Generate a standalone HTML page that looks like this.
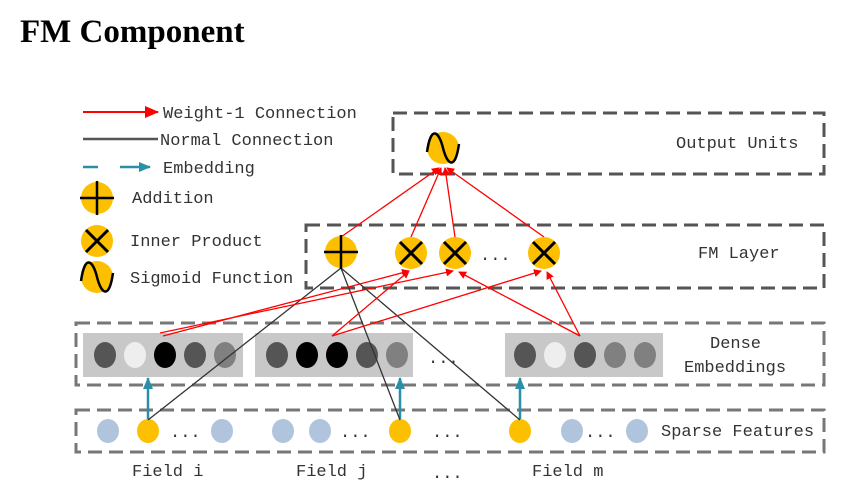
<!DOCTYPE html>
<html><head><meta charset="utf-8"><style>
html,body{margin:0;padding:0;background:#fff;width:842px;height:494px;overflow:hidden}
svg{display:block}
text{font-family:"Liberation Mono",monospace;font-size:17px;fill:#333}
</style></head><body>
<svg width="842" height="494" viewBox="0 0 842 494">
<defs>
<marker id="ra" markerWidth="8" markerHeight="8" refX="7" refY="4" orient="auto" markerUnits="userSpaceOnUse"><path d="M0,0 L8,4 L0,8z" fill="#f00"/></marker>
<marker id="ra2" markerWidth="14" markerHeight="12" refX="13" refY="6" orient="auto" markerUnits="userSpaceOnUse"><path d="M0,0 L14,6 L0,12z" fill="#f00"/></marker>
<marker id="ta" markerWidth="12" markerHeight="10" refX="11" refY="5" orient="auto" markerUnits="userSpaceOnUse"><path d="M0,0 L12,5 L0,10z" fill="#2b8fa8"/></marker>
<g id="plus"><circle r="16" fill="#fcc000"/><path d="M-17,0H17M0,-17V17" stroke="#000" stroke-width="2.5"/></g>
<g id="cross"><circle r="16" fill="#fcc000"/><path d="M-11,-11L11,11M11,-11L-11,11" stroke="#000" stroke-width="3"/></g>
<g id="sig"><circle r="16" fill="#fcc000"/><path d="M-16,4 C-12,-24 -4,-16 0,0 C4,16 12,24 16,-4" fill="none" stroke="#000" stroke-width="2.5"/></g>
</defs>
<text x="20" y="42" style="font-family:'Liberation Serif',serif;font-weight:bold;font-size:33px;fill:#000">FM Component</text>

<line x1="83" y1="112" x2="158" y2="112" stroke="#f00" stroke-width="2" marker-end="url(#ra2)"/>
<text x="163" y="118">Weight-1 Connection</text>
<line x1="83" y1="139" x2="158" y2="139" stroke="#555" stroke-width="2.5"/>
<text x="160" y="145">Normal Connection</text>
<line x1="83" y1="167" x2="98" y2="167" stroke="#2b8fa8" stroke-width="2.5"/>
<line x1="120" y1="167" x2="150" y2="167" stroke="#2b8fa8" stroke-width="2.5" marker-end="url(#ta)"/>
<text x="163" y="173">Embedding</text>
<use href="#plus" x="97" y="198"/><text x="132" y="203">Addition</text>
<use href="#cross" x="97" y="241"/><text x="130" y="246">Inner Product</text>
<use href="#sig" x="97" y="277"/><text x="130" y="283">Sigmoid Function</text>

<g fill="none" stroke="#555" stroke-width="3" stroke-dasharray="14,7">
<rect x="393" y="113" width="431" height="61"/>
<rect x="306" y="225" width="518" height="63"/>
<rect x="76" y="323" width="748" height="62" stroke="#777"/>
<rect x="76" y="410" width="748" height="42" stroke="#777"/>
</g>
<text x="676" y="148">Output Units</text>
<text x="698" y="258">FM Layer</text>
<text x="710" y="348">Dense</text>
<text x="684" y="372">Embeddings</text>
<text x="661" y="436">Sparse Features</text>

<rect x="83" y="333" width="160" height="44" fill="#c8c8c8"/>
<rect x="255" y="333" width="158" height="44" fill="#c8c8c8"/>
<rect x="505" y="333" width="158" height="44" fill="#c8c8c8"/>
<g>
<ellipse cx="105" cy="355" rx="11" ry="13" fill="#555"/>
<ellipse cx="135" cy="355" rx="11" ry="13" fill="#eee"/>
<ellipse cx="165" cy="355" rx="11" ry="13" fill="#000"/>
<ellipse cx="195" cy="355" rx="11" ry="13" fill="#555"/>
<ellipse cx="225" cy="355" rx="11" ry="13" fill="#808080"/>
<ellipse cx="277" cy="355" rx="11" ry="13" fill="#555"/>
<ellipse cx="307" cy="355" rx="11" ry="13" fill="#000"/>
<ellipse cx="337" cy="355" rx="11" ry="13" fill="#000"/>
<ellipse cx="367" cy="355" rx="11" ry="13" fill="#555"/>
<ellipse cx="397" cy="355" rx="11" ry="13" fill="#808080"/>
<ellipse cx="525" cy="355" rx="11" ry="13" fill="#555"/>
<ellipse cx="555" cy="355" rx="11" ry="13" fill="#eee"/>
<ellipse cx="585" cy="355" rx="11" ry="13" fill="#555"/>
<ellipse cx="615" cy="355" rx="11" ry="13" fill="#808080"/>
<ellipse cx="645" cy="355" rx="11" ry="13" fill="#808080"/>
</g>
<text x="428" y="363">...</text>

<g>
<ellipse cx="108" cy="431" rx="11" ry="12" fill="#b0c4de"/>
<ellipse cx="148" cy="431" rx="11" ry="12" fill="#fcc000"/>
<ellipse cx="222" cy="431" rx="11" ry="12" fill="#b0c4de"/>
<ellipse cx="283" cy="431" rx="11" ry="12" fill="#b0c4de"/>
<ellipse cx="320" cy="431" rx="11" ry="12" fill="#b0c4de"/>
<ellipse cx="400" cy="431" rx="11" ry="12" fill="#fcc000"/>
<ellipse cx="520" cy="431" rx="11" ry="12" fill="#fcc000"/>
<ellipse cx="572" cy="431" rx="11" ry="12" fill="#b0c4de"/>
<ellipse cx="637" cy="431" rx="11" ry="12" fill="#b0c4de"/>
</g>
<text x="170" y="437">...</text>
<text x="340" y="437">...</text>
<text x="432" y="437">...</text>
<text x="585" y="437">...</text>

<text x="132" y="476">Field i</text>
<text x="296" y="476">Field j</text>
<text x="432" y="478">...</text>
<text x="532" y="476">Field m</text>

<g stroke="#2b8fa8" stroke-width="2.5" marker-end="url(#ta)">
<line x1="148" y1="419" x2="148" y2="378"/>
<line x1="400" y1="419" x2="400" y2="378"/>
<line x1="520" y1="419" x2="520" y2="378"/>
</g>

<g stroke="#333" stroke-width="1.3">
<line x1="341" y1="268" x2="148" y2="420"/>
<line x1="341" y1="268" x2="400" y2="420"/>
<line x1="341" y1="268" x2="520" y2="420"/>
</g>

<g stroke="#f00" stroke-width="1.3" marker-end="url(#ra)">
<line x1="163" y1="336" x2="409" y2="271"/>
<line x1="160" y1="333" x2="453" y2="271"/>
<line x1="332" y1="336" x2="409" y2="271"/>
<line x1="332" y1="336" x2="541" y2="271"/>
<line x1="580" y1="336" x2="459" y2="272"/>
<line x1="580" y1="336" x2="547" y2="272"/>
<line x1="341" y1="237" x2="439" y2="168"/>
<line x1="411" y1="237" x2="441" y2="168"/>
<line x1="455" y1="237" x2="445" y2="168"/>
<line x1="544" y1="237" x2="447" y2="168"/>
</g>

<use href="#sig" x="443" y="148"/>
<use href="#plus" x="341" y="252"/>
<use href="#cross" x="411" y="253"/>
<use href="#cross" x="455" y="253"/>
<use href="#cross" x="544" y="253"/>
<text x="480" y="260">...</text>
</svg>
</body></html>
